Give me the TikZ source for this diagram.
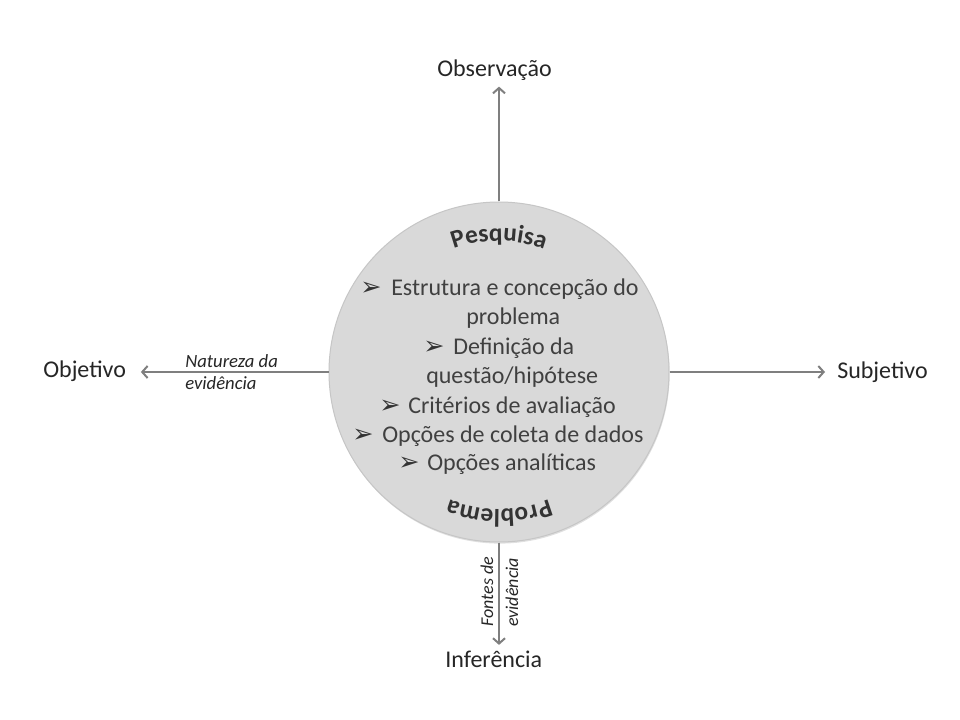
\documentclass[tikz,border=0pt]{standalone}
\usepackage{fontspec}
\setmainfont{Carlito}
\newfontfamily\dv{DejaVu Sans}
\usetikzlibrary{arrows.meta,decorations.text,shadows}
\definecolor{linegray}{HTML}{7F7F7F}
\definecolor{circfill}{HTML}{D9D9D9}
\definecolor{circedge}{HTML}{C6C6C6}
\definecolor{txt}{HTML}{262626}
\definecolor{intxt}{HTML}{404040}
\begin{document}
\begin{tikzpicture}[x=0.75pt,y=-0.75pt,
  arr/.style={draw=linegray, line width=1.5pt, -{Straight Barb[length=4pt,width=9pt]}},
  lab/.style={inner sep=0pt, anchor=base west, text=txt, font=\fontsize{18}{21.6}\selectfont},
  intext/.style={inner sep=0pt, anchor=base west, text=intxt, font=\fontsize{18}{21.6}\selectfont},
  bul/.style={inner sep=0pt, anchor=base west, text=black!80, font=\dv\fontsize{19}{20}\selectfont},
  itlab/.style={inner sep=0pt, anchor=base west, text=txt, font=\itshape\fontsize{14}{16}\selectfont},
  rotlab/.style={itlab, rotate=90, font=\itshape\fontsize{13.5}{16}\selectfont},
  disc/.style={circle, minimum size=255pt, inner sep=0pt, fill=circfill, draw=circedge, line width=0.75pt,
    drop shadow={shadow xshift=0.5pt, shadow yshift=-1.2pt, fill=black, opacity=0.12}}]
\useasboundingbox[fill=white] (0,0) rectangle (960,720);

% circle
\node[disc] (c) at (499,372) {};

% outer labels
\node[lab] (obs) at (437,77) {Observação};
\node[lab] (obj) at (43,377) {Objetivo};
\node[lab] (sub) at (837,378) {Subjetivo};
\node[lab] (inf) at (445,667) {Inferência};

% arrows
\draw[arr, shorten >=4pt] (c.north) -- (c.north |- obs.south);
\draw[arr, shorten >=11pt] (c.west) -- (c.west -| obj.east);
\draw[arr, shorten >=9pt] (c.east) -- (c.east -| sub.west);
\draw[arr, shorten >=4pt] (c.south) -- (c.south |- inf.north);

% axis labels
\node[itlab] (nat1) at (185,367) {Natureza da};
\node[itlab] (nat2) at (185,389) {evidência};
\node[rotlab] (fon1) at (493,627) {Fontes de};
\node[rotlab] (fon2) at (518,627) {evidência};

% curved titles
\path[decorate, decoration={text along path, text align=center,
  text={|\fontsize{19}{19}\selectfont\bfseries\color{black!80}|Pesquisa}}]
  (c.center) ++(-130:131) arc[start angle=-130, end angle=-50, radius=131];
\path[decorate, decoration={text along path, text align=center,
  text={|\fontsize{19}{19}\selectfont\bfseries\color{black!80}|Problema}}]
  (c.center) ++(50:137) arc[start angle=50, end angle=130, radius=137];

% list
\node[bul] (b1) at (360,296) {➢};
\node[intext] (t1) at (391,296) {Estrutura e concepção do};
\node[intext] (t2) at (466,325) {problema};
\node[bul] (b3) at (423,354) {➢};
\node[intext] (t3) at (453,354) {Definição da};
\node[intext] (t4) at (426,383) {questão/hipótese};
\node[bul] (b5) at (379,413) {➢};
\node[intext] (t5) at (408,413) {Critérios de avaliação};
\node[bul] (b6) at (352,442) {➢};
\node[intext] (t6) at (382,442) {Opções de coleta de dados};
\node[bul] (b7) at (398,470) {➢};
\node[intext] (t7) at (427,470) {Opções analíticas};
\end{tikzpicture}
\end{document}
